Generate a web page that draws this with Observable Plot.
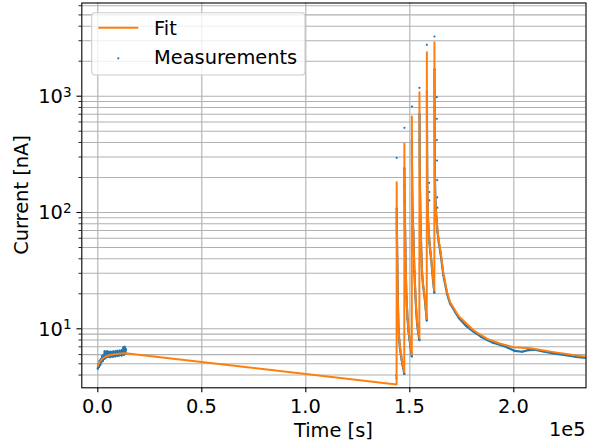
<!DOCTYPE html>
<html><head><meta charset="utf-8">
<script src="https://cdn.jsdelivr.net/npm/d3@7"></script>
<script src="https://cdn.jsdelivr.net/npm/@observablehq/plot@0.6"></script>
<style>body{margin:0;background:#fff} svg{font-family:"DejaVu Sans";background:#fff}</style>
</head><body><div id="chart"></div>
<script>
// ---- data ----
const fitTime = [
0, 800, 2000, 3500, 5500, 8000, 11000, 13300, 143650,
143700, 143720, 143760, 143820, 143900, 144000, 144200, 144400, 144560, 144900, 145300, 145670, 146490, 147350,
147400, 147420, 147460, 147530, 147620, 147740, 147900, 148100, 148400, 148890, 149400, 149900, 150400, 150950,
151000, 151020, 151060, 151150, 151300, 151500, 151670, 151900, 152200, 152600, 153100, 153600, 154100, 154600,
154650, 154670, 154710, 154800, 154950, 155100, 155270, 155550, 155900, 156400, 157200, 157700, 158150,
158200, 158220, 158260, 158320, 158400, 158550, 158750, 159100, 159500, 159950, 160580, 161100, 161500, 161800,
161850, 161870, 161910, 161980, 162080, 162200, 162500, 162900, 163320, 163940, 164750, 166150, 167950, 169350, 171950, 173550, 180770, 187210, 193600, 200000, 208030, 219230, 234700
];
const fitCurrent = [
4.8, 5.15, 5.5, 5.75, 5.92, 6.05, 6.13, 6.17, 3.32,
182, 112, 84, 66, 52, 36, 20, 13.5, 10.3, 8.2, 7.0, 6.2, 5.05, 4.25,
390, 220, 150, 110, 88, 70, 48, 30, 19, 12.6, 9.8, 8.3, 7.1, 6.0,
669, 380, 250, 160, 110, 82, 70, 50, 32, 22, 14.4, 11, 9.4, 8.3,
1082, 600, 380, 230, 140, 95, 70, 45, 31, 24, 18.7, 15, 12.2,
2389, 1200, 600, 300, 170, 120, 90, 70, 55, 46, 36, 28, 24, 21.3,
2913, 1500, 700, 350, 200, 140, 105, 85, 70, 57, 47, 30, 20.5, 17, 14.2, 12.8, 9.67, 8.2, 7.43, 6.95, 6.8, 6.3, 5.75
];

const measEarly = [[0,4.55],[300,4.95],[600,4.7],[900,5.3],[1200,4.9],[1500,5.5],[1800,5.2],[2100,5.8],[2400,5.3],[2700,5.9],
[3000,5.5],[3300,6.4],[3600,5.6],[3900,6.3],[4200,5.7],[4500,6.4],[4800,5.75],[5100,6.35],[5400,5.8],[5700,6.3],
[6000,5.7],[6300,6.35],[6600,5.85],[6900,6.2],[7200,5.75],[7500,6.4],[7800,5.9],[8100,6.3],[8400,5.8],[8700,6.4],
[9000,5.9],[9300,6.45],[9600,5.85],[9900,6.3],[10200,5.9],[10500,6.5],[10800,5.95],[11100,6.4],[11400,5.9],[11700,6.6],
[12000,6.0],[12300,6.9],[12600,6.0],[12900,7.0],[13200,6.1],[13500,6.7]];
const measLow = [[143450,3.95],[143600,3.75]];
const measPeakTops = [[143700,295],[147400,535],[151000,815],[154650,1181],[158200,2767],[161850,3262]];
const measDecay1 = [[143720,108],[143760,82],[143810,67],[143870,54],[143950,42],[144050,31],[144200,20],[144400,13.2],[144600,10.0],[144900,8.0],[145300,6.8],[145700,6.0],[146100,5.4],[146500,4.9],[146900,4.55],[147350,4.1]];
const measDecay2 = [[147420,240],[147450,170],[147500,125],[147570,98],[147650,82],[147750,68],[147900,47],[148100,29],[148400,18.5],[148900,12.2],[149400,9.5],[149900,8.0],[150400,6.9],[150950,5.8]];
const measDecay3 = [[151020,420],[151060,270],[151120,190],[151200,140],[151320,105],[151500,80],[151700,67],[151900,49],[152200,31],[152600,21],[153100,14],[153600,10.7],[154100,9.1],[154600,8.0]];
const measDecay4 = [[154670,700],[154710,420],[154780,270],[154870,180],[154980,130],[155100,94],[155280,68],[155550,44],[155900,30],[156400,23.5],[157200,18.2],[157700,14.6],[158150,11.8]];
const measDecay5 = [[158230,1100],[158280,560],[158340,290],[158420,165],[158560,118],[158760,88],[159100,68],[159500,54],[159950,45],[160580,35],[161100,27],[161500,23],[161800,20.5]];
const measDecay6 = [[161870,1700],[161910,800],[161980,400],[162080,215],[162200,150],[162500,108],[162900,86],[163320,68],[163940,55],[164750,45],[166150,28.8],[167950,19.8],[169350,16.5],[171950,13.8],[173550,12.4],[177000,10.6],[180770,9.4],[184000,8.6],[187210,8.0],[190000,7.6],[193600,7.25],[197000,6.9],[200500,6.45],[204000,6.35],[207000,6.55],[210000,6.6],[214000,6.4],[219000,6.15],[225000,5.92],[230000,5.72],[234700,5.62]];
const measSideDots = [[159300,180],[159350,150],[159400,127],[162950,980],[163000,640],[163050,420],[163100,280],[163150,190],[163200,135],[163240,110]];

const xTicks = [0, 50000, 100000, 150000, 200000];
const xTickLabels = ["0.0", "0.5", "1.0", "1.5", "2.0"];
const yMajorTicks = [10, 100, 1000];
const yMajorExponents = ["1", "2", "3"];
const yMinorTicks = [4,5,6,7,8,9,20,30,40,50,60,70,80,90,200,300,400,500,600,700,800,900,2000,3000,4000,5000,6000];

// ---- build tables ----
const fitData = fitTime.map((t, i) => ({t, v: fitCurrent[i]}));
const lineSegs = [measEarly, measDecay1, measDecay2, measDecay3, measDecay4, measDecay5, measDecay6];
const measLineData = lineSegs.flatMap((seg, g) => seg.map(([t, v]) => ({t, v, g})));
const measDotData = [...lineSegs.flat(), ...measLow, ...measPeakTops, ...measSideDots].map(([t, v]) => ({t, v}));

const BLUE = "#1f77b4", ORANGE = "#ff7f0e", GRID = "#b0b0b0";
const W = 605, H = 440;

const plot = Plot.plot({
  width: W, height: H,
  marginLeft: 81.3, marginRight: 19.5, marginTop: 2.5, marginBottom: 52.7,
  x: {domain: [-7692, 234711], axis: null},
  y: {type: "log", domain: [3.109, 6330], axis: null},
  marks: [
    Plot.gridY({ticks: [...yMajorTicks, ...yMinorTicks], stroke: GRID, strokeOpacity: 1, strokeWidth: 1.1}),
    Plot.gridX({ticks: xTicks, stroke: GRID, strokeOpacity: 1, strokeWidth: 1.1}),
    Plot.line(measLineData, {x: "t", y: "v", z: "g", stroke: BLUE, strokeWidth: 2.2, clip: true}),
    Plot.dot(measDotData, {x: "t", y: "v", r: 1.1, fill: BLUE, stroke: null, clip: true}),
    Plot.line(fitData, {x: "t", y: "v", stroke: ORANGE, strokeWidth: 2, clip: true}),
    Plot.frame({stroke: "black", strokeWidth: 1.1}),
    Plot.axisX({ticks: xTicks, tickSize: 4.86, tickFormat: () => "", stroke: "black", strokeWidth: 1.1, label: null}),
    Plot.axisY({ticks: yMajorTicks, tickSize: 4.86, tickFormat: () => "", stroke: "black", strokeWidth: 1.1, label: null}),
    Plot.axisY({ticks: yMinorTicks, tickSize: 2.8, tickFormat: () => "", stroke: "black", strokeWidth: 0.85, label: null})
  ]
});
document.getElementById("chart").appendChild(plot);

// ---- text & legend ----
const svg = d3.select(plot);
const xs = plot.scale("x"), ys = plot.scale("y");
const FS = 19.4, FONT = "DejaVu Sans";
const txt = (g, anchor) => g.attr("font-family", FONT).attr("font-size", FS).attr("fill", "black").attr("text-anchor", anchor);
const tg = svg.append("g");

xTicks.forEach((t, i) => {
  txt(tg.append("text"), "middle").attr("x", xs.apply(t)).attr("y", 412.5).text(xTickLabels[i]);
});
yMajorTicks.forEach((v, i) => {
  const t = txt(tg.append("text"), "end").attr("x", 71.6).attr("y", ys.apply(v) + 7.3);
  t.append("tspan").text("10");
  t.append("tspan").attr("font-size", 13.6).attr("dy", -6.5).text(yMajorExponents[i]);
});
txt(tg.append("text"), "middle").attr("x", 333.4).attr("y", 436.5).text("Time [s]");
txt(tg.append("text"), "middle").attr("transform", "translate(27.5,195) rotate(-90)").text("Current [nA]");
txt(tg.append("text"), "end").attr("x", 585.5).attr("y", 436).text("1e5");

const lg = svg.append("g");
lg.append("rect").attr("x", 91.7).attr("y", 12.7).attr("width", 213.3).attr("height", 62.3).attr("rx", 3.5)
  .attr("fill", "white").attr("fill-opacity", 0.8).attr("stroke", "#cccccc").attr("stroke-width", 1.1);
lg.append("line").attr("x1", 98.3).attr("x2", 138.3).attr("y1", 27.7).attr("y2", 27.7).attr("stroke", ORANGE).attr("stroke-width", 2);
lg.append("circle").attr("cx", 118.3).attr("cy", 58.3).attr("r", 1.1).attr("fill", BLUE);
txt(lg.append("text"), "start").attr("x", 154).attr("y", 34.6).text("Fit");
txt(lg.append("text"), "start").attr("x", 154).attr("y", 63.5).text("Measurements");
</script></body></html>
